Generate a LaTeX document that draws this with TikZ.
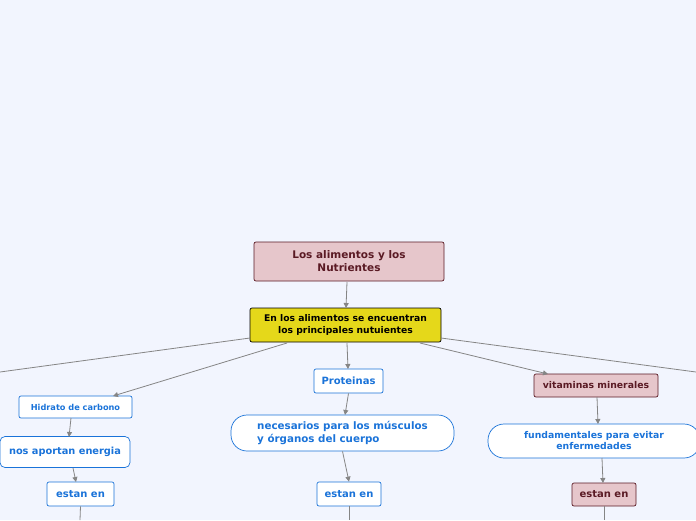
\documentclass[tikz,border=0pt]{standalone}
\usepackage{fontspec}
\setmainfont{DejaVu Sans}
\usetikzlibrary{arrows.meta}
\definecolor{bg}{HTML}{F2F5FE}
\definecolor{pinkf}{HTML}{E6C6CB}
\definecolor{pinkd}{HTML}{5A1A24}
\definecolor{yel}{HTML}{E5D81A}
\definecolor{blu}{HTML}{1A73D9}
\definecolor{edge}{HTML}{858585}
\tikzset{
 base/.style={rounded corners=2pt, align=center, font=\bfseries, inner sep=0pt, line width=0.7pt},
 pinkbox/.style={base, fill=pinkf, draw=pinkd, text=pinkd},
 bluebox/.style={base, fill=white, draw=blu, text=blu},
 pillbox/.style={base, fill=white, draw=blu, text=blu, rounded corners=16pt},
 yelbox/.style={base, fill=yel, draw=black, text=black},
 conn/.style={draw=edge, line width=0.8pt, -{Triangle[length=5pt,width=5pt]}},
 plain/.style={draw=edge, line width=0.8pt}
}
\begin{document}
\begin{tikzpicture}[x=1pt,y=-1pt]
\fill[bg] (0,0) rectangle (696,520);
\useasboundingbox (0,0) rectangle (696,520);
\node[pinkbox, minimum width=190pt, minimum height=39pt, font=\bfseries\fontsize{10.5}{13}\selectfont] (top) at (349,261.5) {Los alimentos y los\\Nutrientes};
\node[yelbox, minimum width=191pt, minimum height=34pt, font=\bfseries\fontsize{9.2}{11.5}\selectfont] (main) at (345.5,325) {En los alimentos se encuentran\\los principales nutuientes};
\node[bluebox, minimum width=69pt, minimum height=24pt, font=\bfseries\fontsize{10}{12}\selectfont] (prot) at (348.5,381) {Proteinas};
\node[bluebox, minimum width=113pt, minimum height=22pt, font=\bfseries\fontsize{8.2}{10}\selectfont] (hid) at (75.5,407) {Hidrato de carbono};
\node[bluebox, minimum width=130pt, minimum height=31pt, rounded corners=5pt, font=\bfseries\fontsize{9.8}{12}\selectfont] (nos) at (65,452) {nos aportan energia};
\node[bluebox, minimum width=67pt, minimum height=24pt, font=\bfseries\fontsize{10}{12}\selectfont] (e1) at (80.5,494) {estan en};
\node[pillbox, minimum width=223pt, minimum height=36pt, align=left, font=\bfseries\fontsize{10.3}{12.5}\selectfont] (nec) at (342.5,433) {necesarios para los músculos\\y órganos del cuerpo};
\node[bluebox, minimum width=64pt, minimum height=24pt, font=\bfseries\fontsize{10}{12}\selectfont] (e2) at (349,494) {estan en};
\node[pinkbox, minimum width=124pt, minimum height=23pt, font=\bfseries\fontsize{9.3}{11}\selectfont] (vit) at (596,385.5) {vitaminas minerales};
\node[pillbox, minimum width=212pt, minimum height=34pt, font=\bfseries\fontsize{9.3}{11}\selectfont] (fun) at (594,441) {fundamentales para evitar\\enfermedades};
\node[pinkbox, minimum width=64pt, minimum height=23pt, font=\bfseries\fontsize{10}{12}\selectfont] (e3) at (604,494.5) {estan en};
\coordinate (L) at (0,372);
\coordinate (R) at (696,372);
\coordinate (b1) at (80,520);
\coordinate (b2) at (349,520);
\coordinate (b3) at (604,520);
\draw[conn] (347,282) -- (346,308);
\draw[plain] (250,338) -- (L);
\draw[plain] (441,338) -- (R);
\draw[conn] (287,343) -- (113,396);
\draw[conn] (347,343) -- (348,369);
\draw[conn] (420,343) -- (548,374);
\draw[conn] (prot.south) -- (345,415);
\draw[conn] (71,418) -- (69,437);
\draw[conn] (73,468) -- (76,482);
\draw[conn] (nec.south) -- (e2.north);
\draw[conn] (597,397) -- (598,424);
\draw[conn] (602,458) -- (603,483);
\draw[plain] (e1.south) -- (b1);
\draw[plain] (e2.south) -- (b2);
\draw[plain] (e3.south) -- (b3);
\end{tikzpicture}
\end{document}
